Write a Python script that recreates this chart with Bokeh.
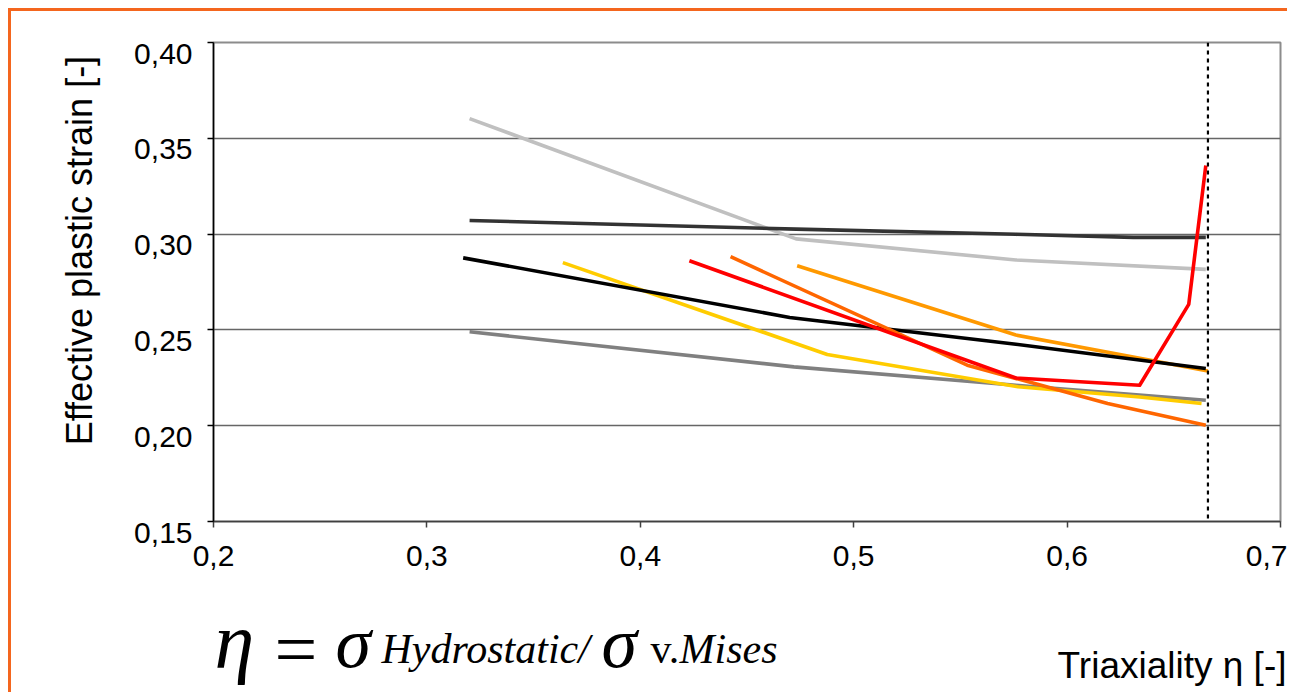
import math
from bokeh.plotting import figure
from bokeh.layouts import column, row
from bokeh.models import Range1d, FixedTicker, CustomJSTickFormatter, Span, Label
from bokeh.embed import file_html
from bokeh.resources import INLINE

# ---------------- data ----------------
x_ticks = [0.2, 0.3, 0.4, 0.5, 0.6, 0.7]
y_ticks = [0.15, 0.20, 0.25, 0.30, 0.35, 0.40]

light_gray_x = [0.320, 0.473, 0.576, 0.665]
light_gray_y = [0.3603, 0.2975, 0.2865, 0.2816]

dark_gray_x = [0.320, 0.473, 0.576, 0.631, 0.665]
dark_gray_y = [0.3071, 0.3026, 0.2999, 0.2983, 0.2983]

mid_gray_x = [0.320, 0.472, 0.576, 0.665]
mid_gray_y = [0.2490, 0.2307, 0.2211, 0.2133]

yellow_x = [0.3637, 0.4876, 0.577, 0.634, 0.663]
yellow_y = [0.2851, 0.2372, 0.2203, 0.2150, 0.2116]

orange_x = [0.4735, 0.576, 0.666]
orange_y = [0.2835, 0.2473, 0.2286]

black_x = [0.317, 0.470, 0.576, 0.665]
black_y = [0.2876, 0.2565, 0.2425, 0.2299]

dark_orange_x = [0.4423, 0.5532, 0.619, 0.665]
dark_orange_y = [0.2882, 0.2316, 0.2116, 0.2002]

red_x = [0.423, 0.576, 0.634, 0.657, 0.665]
red_y = [0.2861, 0.2249, 0.2211, 0.2633, 0.3358]

eta_limit = 0.666

y_title = "Effective plastic strain [-]"
x_title = "Triaxiality η [-]"

# ---------------- layout (pixels) ----------------
TOTAL_W = 1287
LW = 110                 # left strip (y title)
TOP_H = 580              # height of chart row
BOT_H = 112              # strip below (formula, x title)
MW = TOTAL_W - LW        # main figure width
FL, FR, FT, FB = 213, 1280, 42, 521   # frame edges in page px
X0, X1, Y0, Y1 = 0.2, 0.7, 0.15, 0.40
ORANGE = "#f4661e"


def blank(width, height):
    f = figure(width=width, height=height, output_backend="svg", toolbar_location=None,
               title=None,
               x_range=Range1d(0, width), y_range=Range1d(0, height),
               x_axis_type=None, y_axis_type=None,
               min_border=0, min_border_left=0, min_border_right=0,
               min_border_top=0, min_border_bottom=0)
    f.outline_line_color = None
    f.border_fill_alpha = 0
    f.background_fill_alpha = 0
    f.grid.visible = False
    return f


# ---------------- main chart ----------------
p = figure(width=MW, height=TOP_H, output_backend="svg", toolbar_location=None,
           title=None,
           x_range=Range1d(X0, X1), y_range=Range1d(Y0, Y1),
           min_border_left=FL - LW, min_border_right=TOTAL_W - FR,
           min_border_top=FT, min_border_bottom=TOP_H - FB)
p.border_fill_alpha = 0
p.background_fill_color = "white"
p.outline_line_color = "#8c8c8c"
p.outline_line_width = 2

p.xaxis.ticker = FixedTicker(ticks=x_ticks)
p.yaxis.ticker = FixedTicker(ticks=y_ticks)
p.xaxis.formatter = CustomJSTickFormatter(code="return tick.toFixed(1).replace('.', ',')")
p.yaxis.formatter = CustomJSTickFormatter(code="return '\\n' + tick.toFixed(2).replace('.', ',')")
for ax in (p.xaxis[0], p.yaxis[0]):
    ax.major_label_text_font = "Liberation Sans"
    ax.major_label_text_font_size = "30px"
    ax.major_label_text_color = "black"
    ax.minor_tick_line_color = None
    ax.major_tick_in = 0
    ax.major_tick_out = 6
    ax.major_tick_line_width = 1.5
p.yaxis.axis_line_color = "black"
p.yaxis.axis_line_width = 1.5
p.yaxis.major_tick_line_color = "black"
p.yaxis.major_label_standoff = 15
p.yaxis.major_label_text_line_height = 0.64
p.xaxis.axis_line_color = "#404040"
p.xaxis.axis_line_width = 1.5
p.xaxis.major_tick_line_color = "#404040"
p.xaxis.major_label_standoff = 18

p.xgrid.grid_line_color = None
p.ygrid.ticker = FixedTicker(ticks=y_ticks)
p.ygrid.grid_line_color = "#666666"
p.ygrid.grid_line_width = 1.5

series = [
    (light_gray_x, light_gray_y, "#c0c0c0"),
    (dark_gray_x, dark_gray_y, "#333333"),
    (mid_gray_x, mid_gray_y, "#808080"),
    (yellow_x, yellow_y, "#ffcc00"),
    (orange_x, orange_y, "#ff9900"),
    (black_x, black_y, "#000000"),
    (dark_orange_x, dark_orange_y, "#ff6600"),
    (red_x, red_y, "#ff0000"),
]
for xs, ys, c in series:
    p.line(xs, ys, line_color=c, line_width=3.6, line_join="round", line_cap="butt")

p.add_layout(Span(location=eta_limit, dimension="height", line_color="black",
                  line_width=2.2, line_dash="4 4"))

# ---------------- left strip: y title ----------------
pl = blank(LW, TOP_H)
pl.add_layout(Label(x=79, y=TOP_H - 252, text=y_title, angle=math.pi / 2,
                    text_align="center", text_baseline="middle",
                    text_font="Liberation Sans", text_font_size="36px", text_color="black"))

# ---------------- bottom strip: formula + x title ----------------
pb = blank(TOTAL_W, BOT_H)
page_bottom = TOP_H + BOT_H
# (text, left x, vertical middle y, size, style) -- page pixels
pb.add_layout(Label(x=1286, y=page_bottom - 665, text=x_title,
                    text_align="right", text_baseline="middle",
                    text_font="Liberation Sans", text_font_size="37px", text_color="black"))

formula = [
    ("η", 214, 640, "80px", "italic"),
    ("=", 274, 648, "76px", "normal"),
    ("σ", 335, 642, "72px", "italic"),
    ("Hydrostatic/", 381, 648, "42px", "italic"),
    ("σ", 601, 642, "72px", "italic"),
    ("v.", 650, 648, "42px", "normal"),
    ("Mises", 679, 648, "42px", "italic"),
]
for t, px, py, fs, st in formula:
    pb.add_layout(Label(x=px, y=page_bottom - py, text=t, text_align="left",
                        text_baseline="middle", text_font="Liberation Serif",
                        text_font_size=fs, text_font_style=st, text_color="black"))

layout = column(row(pl, p, spacing=0), pb, spacing=0)
layout.styles = {
    "background-image": f"linear-gradient({ORANGE}, {ORANGE}), linear-gradient({ORANGE}, {ORANGE})",
    "background-size": "3px 100%, 100% 3px",
    "background-position": "8px 8px, 8px 8px",
    "background-repeat": "no-repeat",
}

open("out.html", "w").write(file_html(layout, INLINE))
